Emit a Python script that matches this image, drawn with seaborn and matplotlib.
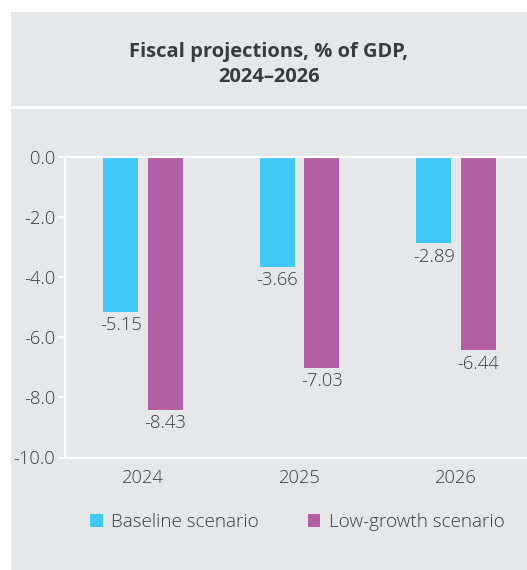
import matplotlib
matplotlib.use("Agg")
import matplotlib.pyplot as plt
from matplotlib.patches import Rectangle
import pandas as pd
import seaborn as sns

# Fiscal balance projections, % of GDP
years = ["2024", "2025", "2026"]
scenarios = ["Baseline scenario", "Low-growth scenario"]
baseline = [-5.15, -3.66, -2.89]
low_growth = [-8.43, -7.03, -6.44]
y_ticks = [0.0, -2.0, -4.0, -6.0, -8.0, -10.0]

df = pd.DataFrame({
    "year": years * 2,
    "scenario": [scenarios[0]] * 3 + [scenarios[1]] * 3,
    "value": baseline + low_growth,
})

sns.set_theme(style="white")
plt.rcParams["font.family"] = ["Open Sans", "DejaVu Sans"]
plt.rcParams["axes.unicode_minus"] = False

PANEL = "#e6e7e9"
TEXT = "#3b3b3d"
colors = ["#42c8f4", "#b25fa6"]
FS = 13.2

fig = plt.figure(figsize=(5.27, 5.70), dpi=100, facecolor="white")

# Grey panels: title band and chart body
fig.patches.append(Rectangle((11 / 527, 1 - 106 / 570), 1, (106 - 12) / 570,
                             transform=fig.transFigure, facecolor=PANEL,
                             edgecolor="none", zorder=-2))
fig.patches.append(Rectangle((11 / 527, 0), 1, 1 - 109 / 570,
                             transform=fig.transFigure, facecolor=PANEL,
                             edgecolor="none", zorder=-2))

fig.text(269 / 527, 1 - 56.7 / 570, "Fiscal projections, % of GDP,",
         ha="center", va="baseline", fontsize=14.5, fontweight="bold", color=TEXT)
fig.text(269 / 527, 1 - 81.7 / 570, "2024\u20132026",
         ha="center", va="baseline", fontsize=14.5, fontweight="bold", color=TEXT)

ax = fig.add_axes([64.7 / 527, 1 - 457.5 / 570, 469.5 / 527, (457.5 - 156.5) / 570])
ax.set_zorder(2)
ax.set_facecolor("none")

sns.barplot(data=df, x="year", y="value", hue="scenario", palette=colors,
            width=0.568, gap=0.206, saturation=1, linewidth=0, ax=ax)

ax.set_xlim(-0.5, 2.5)
ax.set_ylim(-10, 0)
ax.set_yticks(y_ticks)
ax.set_yticklabels([f"{t:.1f}" for t in y_ticks])
ax.set_xlabel("")
ax.set_ylabel("")

for side in ["left", "top", "bottom"]:
    ax.spines[side].set_visible(True)
    ax.spines[side].set_color("white")
    ax.spines[side].set_linewidth(1.6)
ax.spines["right"].set_visible(False)

ax.tick_params(axis="y", which="major", left=True, length=5, width=1.5,
               color="white", pad=2, labelsize=FS, labelcolor=TEXT)
ax.tick_params(axis="x", length=0, pad=8, labelsize=FS, labelcolor=TEXT)
for lab in ax.get_yticklabels() + ax.get_xticklabels():
    lab.set_fontweight("light")

for container in ax.containers:
    labels = ax.bar_label(container, fmt="%.2f", padding=3, fontsize=FS, color=TEXT)
    for t in labels:
        t.set_fontweight("light")

handles, labels = ax.get_legend_handles_labels()
ax.get_legend().remove()
leg = fig.legend(handles, labels, loc="center", bbox_to_anchor=(297.5 / 527, 1 - 522 / 570),
                 ncol=2, frameon=False, fontsize=13.6, handlelength=0.65, handleheight=0.65,
                 handletextpad=0.45, columnspacing=2.6)
for t in leg.get_texts():
    t.set_color(TEXT)
    t.set_fontweight("light")

fig.savefig("out.png", dpi=100, facecolor="white")
